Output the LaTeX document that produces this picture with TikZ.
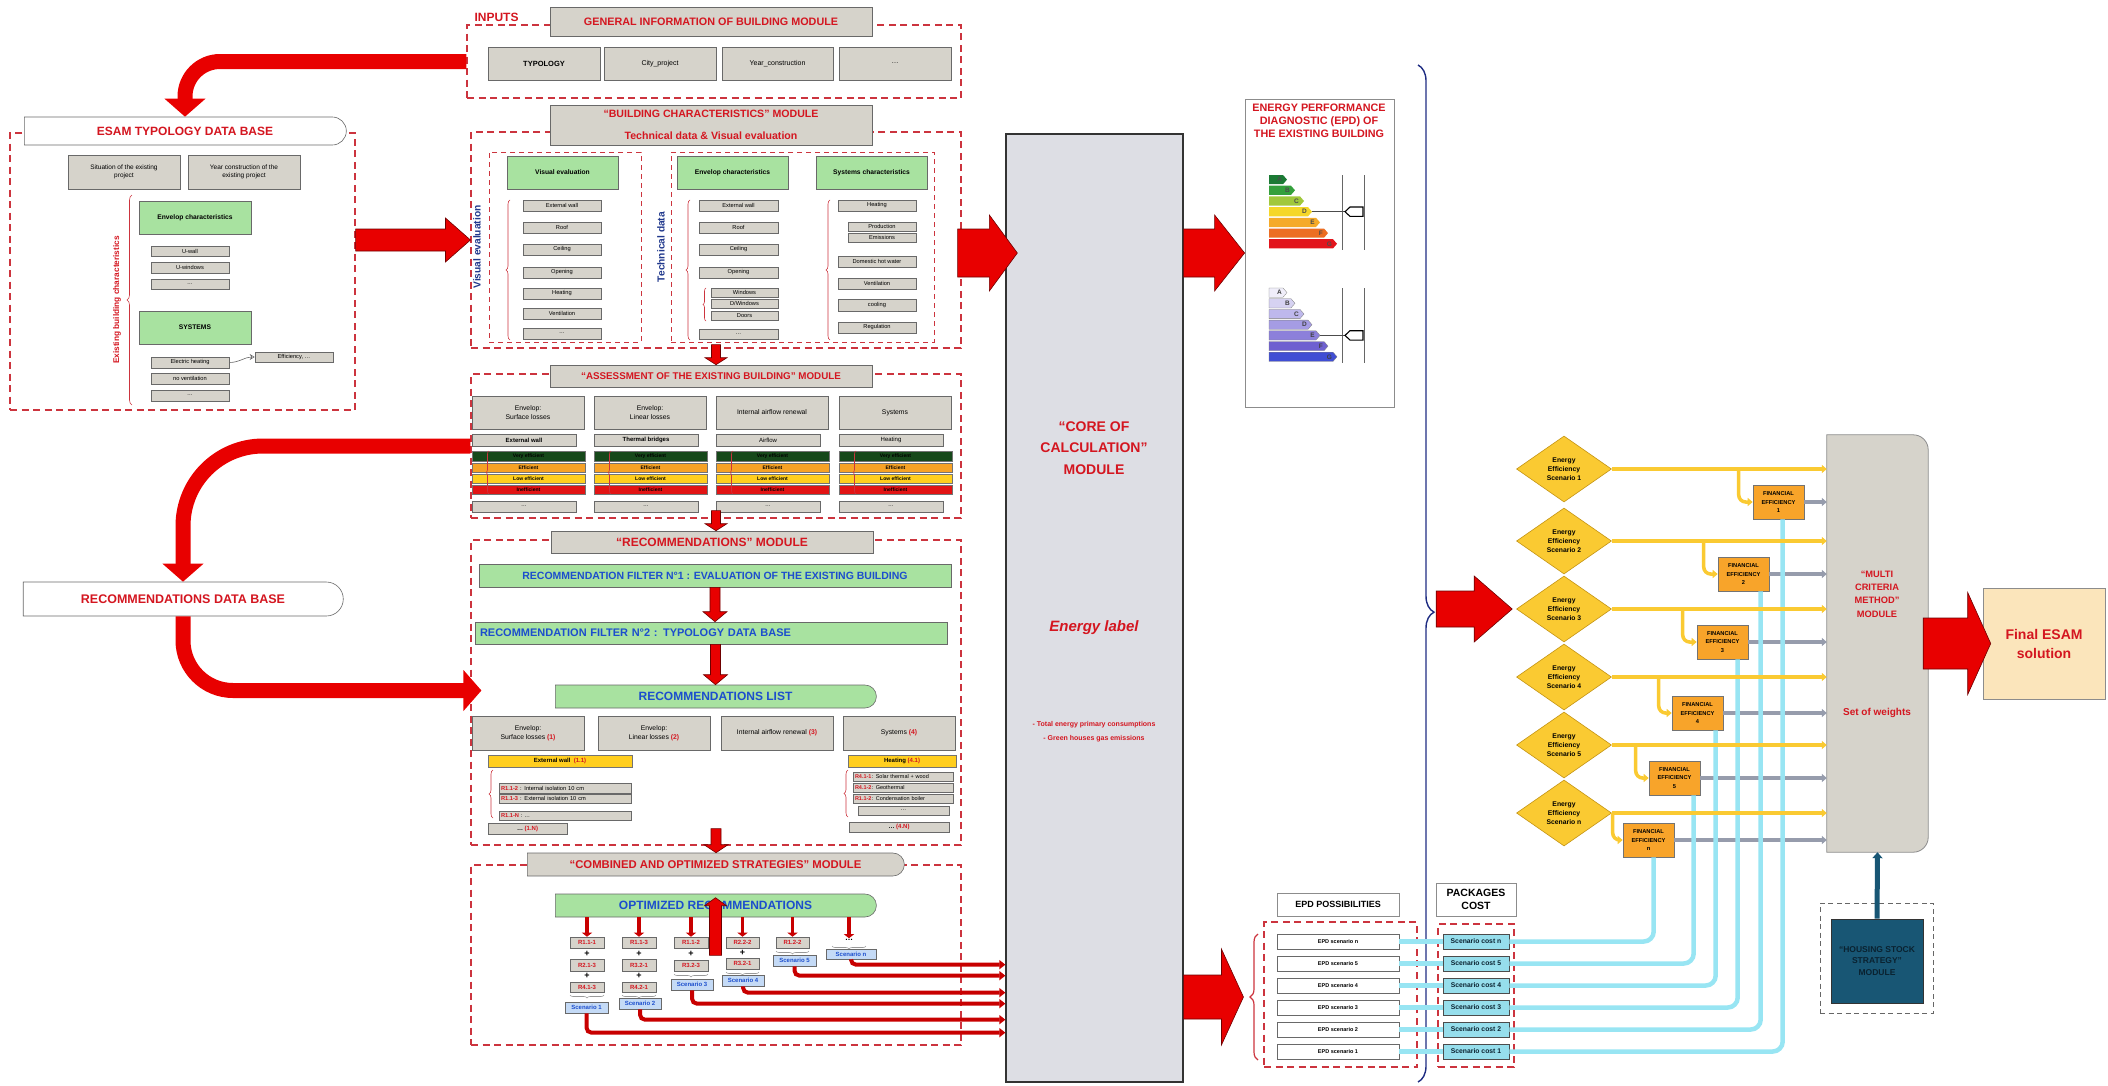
\documentclass[tikz,border=0pt]{standalone}
\usepackage{fontspec}
\setmainfont{Liberation Sans}
\usetikzlibrary{arrows.meta,calc,decorations.pathreplacing,shapes.geometric,shapes.misc}

\definecolor{boxgray}{RGB}{214,211,203}
\definecolor{boxedge}{RGB}{105,105,105}
\definecolor{boxgreen}{RGB}{168,226,160}
\definecolor{txtred}{RGB}{212,22,32}
\definecolor{txtblue}{RGB}{28,78,205}
\definecolor{rotblue}{RGB}{32,56,140}
\definecolor{framered}{RGB}{204,52,62}
\definecolor{arrred}{RGB}{232,0,0}
\definecolor{arredge}{RGB}{110,0,0}
\definecolor{linered}{RGB}{200,0,0}
\definecolor{verygreen}{RGB}{22,72,26}
\definecolor{effor}{RGB}{246,162,38}
\definecolor{lowyel}{RGB}{255,206,30}
\definecolor{inred}{RGB}{226,20,20}
\definecolor{scenfill}{RGB}{196,218,246}
\definecolor{corefill}{RGB}{221,222,228}
\definecolor{diafill}{RGB}{250,202,50}
\definecolor{diaedge}{RGB}{196,148,20}
\definecolor{fefill}{RGB}{248,164,42}
\definecolor{cyanln}{RGB}{152,229,243}
\definecolor{costfill}{RGB}{150,222,236}
\definecolor{hsfill}{RGB}{24,86,116}
\definecolor{hstext}{RGB}{10,34,48}
\definecolor{finalfill}{RGB}{251,229,187}
\definecolor{wgray}{RGB}{150,156,172}
\definecolor{bracenavy}{RGB}{30,44,130}
\definecolor{ea}{RGB}{27,122,52}
\definecolor{eb}{RGB}{52,160,60}
\definecolor{ec}{RGB}{160,200,60}
\definecolor{ed}{RGB}{245,215,40}
\definecolor{ee}{RGB}{245,170,40}
\definecolor{ef}{RGB}{236,110,35}
\definecolor{eg}{RGB}{226,20,28}
\definecolor{fa}{RGB}{240,238,250}
\definecolor{fb}{RGB}{214,210,242}
\definecolor{fc}{RGB}{190,184,236}
\definecolor{fd}{RGB}{165,156,228}
\definecolor{fe}{RGB}{140,128,218}
\definecolor{ff}{RGB}{110,96,208}
\definecolor{fg}{RGB}{64,78,212}

\newcommand{\fsz}[2]{\fontsize{#1}{#2}\selectfont}
% box given by its corners, in pixels of the original figure
\newcommand{\modbox}[7]{\node[#2, minimum width={(#5-#3)*1pt}, minimum height={(#6-#4)*1pt}] (#1) at ({(#3+#5)/2},{(#4+#6)/2}) {#7};}
% fat red arrows: from, to, body half, head half, head length
\newcommand{\vblock}[5]{\draw[blockarrow] let \p1=(#1), \p2=(#2) in (\x1-#3pt,\y1) -- (\x1-#3pt,\y2+#5pt) -- (\x1-#4pt,\y2+#5pt) -- (\x1,\y2) -- (\x1+#4pt,\y2+#5pt) -- (\x1+#3pt,\y2+#5pt) -- (\x1+#3pt,\y1) -- cycle;}
\newcommand{\rblock}[5]{\draw[blockarrow] let \p1=(#1), \p2=(#2) in (\x1,\y1+#3pt) -- (\x2-#5pt,\y1+#3pt) -- (\x2-#5pt,\y1+#4pt) -- (\x2,\y1) -- (\x2-#5pt,\y1-#4pt) -- (\x2-#5pt,\y1-#3pt) -- (\x1,\y1-#3pt) -- cycle;}

\tikzset{
  gbox/.style={draw=boxedge, fill=boxgray, line width=0.6pt, inner sep=1pt, align=center, font=\fsz{6.5}{8}},
  item/.style={gbox, font=\fsz{5.7}{6.5}},
  litem/.style={item, align=left, inner xsep=2pt, text width=#1},
  grbox/.style={draw=boxedge, fill=boxgreen, line width=0.6pt, inner sep=1pt, align=center, font=\bfseries\fsz{6.7}{8}},
  headbox/.style={gbox, text=txtred, font=\bfseries\fsz{10.8}{13}},
  filter/.style={grbox, text=txtblue, font=\bfseries\fsz{10.5}{13}},
  roundr/.style={rounded rectangle, rounded rectangle left arc=none, draw=boxedge, line width=0.6pt, inner sep=1pt},
  dbbox/.style={roundr, fill=white, text=txtred, font=\bfseries\fsz{12}{14}},
  modframe/.style={draw=framered, line width=1.1pt, dash pattern=on 7pt off 4.5pt, inner sep=0},
  subframe/.style={modframe, line width=0.9pt, dash pattern=on 5pt off 4pt},
  bar/.style={draw=black!55, line width=0.4pt, inner sep=0, font=\bfseries\fsz{5}{5.5}},
  yelbar/.style={draw=black!55, fill=lowyel, line width=0.4pt, inner sep=0, font=\bfseries\fsz{6}{6.5}},
  rbox/.style={item, text=txtred, font=\bfseries\fsz{6}{7}},
  scen/.style={draw=boxedge, fill=scenfill, line width=0.5pt, inner sep=0, text=txtblue, font=\bfseries\fsz{6}{7}},
  brc/.style={draw=framered, line width=0.6pt, decorate, decoration={brace, amplitude=#1}},
  brc/.default=4pt,
  blockarrow/.style={draw=arredge, fill=arrred, line width=0.6pt, line join=miter},
  curvearrow/.style={draw=arrred, line width=15pt, -{Triangle[length=18pt, width=40pt]}},
  scenline/.style={draw=linered, line width=4pt, rounded corners=5pt, -{Triangle[length=6pt, width=9pt]}},
  optarrow/.style={draw=linered, line width=3.5pt, -{Triangle[length=4pt, width=10pt]}},
  dia/.style={diamond, draw=diaedge, fill=diafill, line width=0.6pt, inner sep=0, minimum width=95pt, minimum height=66pt, align=center, font=\bfseries\fsz{6.8}{9}},
  febox/.style={draw=black!55, fill=fefill, line width=0.6pt, inner sep=0, align=center, font=\bfseries\fsz{5.7}{8.5}},
  yarrow/.style={draw=diafill, line width=3.5pt, -{Triangle[length=5pt, width=8pt]}},
  ybranch/.style={yarrow, rounded corners=7pt},
  garrow/.style={draw=wgray, line width=3.5pt, -{Triangle[length=5pt, width=8pt]}},
  cline/.style={draw=cyanln, line width=4.5pt, rounded corners=10pt},
  epdsbox/.style={draw=boxedge, fill=white, line width=0.6pt, inner sep=0, font=\bfseries\fsz{5.5}{6}},
  costbox/.style={draw=black!70, fill=costfill, line width=0.6pt, inner sep=0, text=hstext, font=\bfseries\fsz{6.8}{7.5}},
}

\begin{document}
\begin{tikzpicture}[x=1pt, y=-1pt]
\useasboundingbox (0,0) rectangle (2108,1085);

% inputs
\node[anchor=west, text=txtred, font=\bfseries\fsz{12}{14}] (inputs) at (471,17) {INPUTS};
\modbox{inframe}{modframe}{467}{25}{961}{98}{}
\modbox{genhead}{headbox}{550}{7}{872}{36}{GENERAL INFORMATION OF BUILDING MODULE}
\modbox{typ}{gbox, font=\bfseries\fsz{7.5}{9}}{488}{47}{600}{80}{TYPOLOGY}
\modbox{city}{gbox, font=\fsz{7}{8}}{604}{47}{716}{80}{City\_project}
\modbox{year}{gbox, font=\fsz{7}{8}}{722}{47}{833}{80}{Year\_construction}
\modbox{inmore}{gbox, font=\fsz{7}{8}}{839}{47}{951}{80}{\dots}

% typology data base
\modbox{esamframe}{modframe}{10}{133}{355}{410}{}
\modbox{esam}{dbbox}{23}{117}{347}{145}{ESAM TYPOLOGY DATA BASE}
\modbox{sit}{gbox}{68}{155}{180}{189}{Situation of the existing\\project}
\modbox{yrc}{gbox}{188}{155}{300}{189}{Year construction of the\\existing project}
\modbox{tenv}{grbox}{139}{201}{251}{234}{Envelop characteristics}
\modbox{uwall}{item}{151}{246}{229}{256}{U-wall}
\modbox{uwin}{item}{151}{262}{229}{273}{U-windows}
\modbox{udots}{item}{151}{279}{229}{289}{\dots}
\modbox{tsys}{grbox}{139}{311}{251}{344}{SYSTEMS}
\modbox{eheat}{item}{151}{357}{229}{368}{Electric heating}
\modbox{novent}{item}{151}{373}{229}{384}{no ventilation}
\modbox{sdots}{item}{151}{390}{229}{401}{\dots}
\modbox{effi}{item}{255}{352}{333}{362}{Efficiency, \dots}
\draw[draw=black!60, line width=0.6pt, -{Stealth[open, length=5pt, width=6pt]}] (eheat.east) to[out=0, in=180] (effi.west);
\draw[brc=5pt] (132,405) -- (132,195);
\node[rotate=90, text=txtred, font=\bfseries\fsz{8.3}{10}] (exlab) at (117,300) {Existing building characteristics};

% building characteristics
\modbox{bframe}{modframe}{471}{132}{961}{348}{}
\modbox{bvis}{subframe}{489}{152}{641}{342}{}
\modbox{btech}{subframe}{671}{152}{934}{342}{}
\modbox{bhead}{headbox, font=\bfseries\fsz{10.6}{22}}{550}{105}{872}{145}{“BUILDING CHARACTERISTICS” MODULE\\Technical data \& Visual evaluation}
\node[rotate=90, text=rotblue, font=\bfseries\fsz{10.2}{12}] (vislab) at (477,247) {Visual evaluation};
\node[rotate=90, text=rotblue, font=\bfseries\fsz{10.2}{12}] (techlab) at (661,247) {Technical data};
\modbox{vis}{grbox}{507}{156}{618}{189}{Visual evaluation}
\foreach \k/\ya/\yb/\t in {1/200/211/External wall, 2/222/233/Roof, 3/244/255/Ceiling, 4/267/278/Opening, 5/288/299/Heating, 6/308/319/Ventilation, 7/328/339/\dots}{
  \modbox{vis\k}{item}{523}{\ya}{601}{\yb}{\t}
}
\draw[brc] (510,340) -- (510,200);
\modbox{envt}{grbox}{677}{156}{788}{189}{Envelop characteristics}
\foreach \k/\ya/\yb/\t in {1/200/211/External wall, 2/222/233/Roof, 3/244/255/Ceiling, 4/267/278/Opening, 5/329/339/\dots}{
  \modbox{env\k}{item}{699}{\ya}{778}{\yb}{\t}
}
\foreach \k/\ya/\yb/\t in {1/288/297/Windows, 2/299/308/{D/Windows}, 3/311/320/Doors}{
  \modbox{open\k}{item}{711}{\ya}{778}{\yb}{\t}
}
\draw[brc=3pt] (706,321) -- (706,288);
\draw[brc] (690,340) -- (690,200);
\modbox{sytop}{grbox}{816}{156}{927}{189}{Systems characteristics}
\modbox{sy1}{item}{838}{200}{916}{211}{Heating}
\modbox{sy2}{item}{848}{222}{916}{231}{Production}
\modbox{sy3}{item}{848}{233}{916}{242}{Emissions}
\modbox{sy4}{item}{838}{256}{916}{267}{Domestic hot water}
\modbox{sy5}{item}{838}{278}{916}{289}{Ventilation}
\modbox{sy6}{item}{838}{299}{916}{311}{cooling}
\modbox{sy7}{item}{838}{322}{916}{333}{Regulation}
\draw[brc] (830,340) -- (830,200);

% assessment
\modbox{aframe}{modframe}{471}{374}{961}{518}{}
\modbox{ahead}{headbox, font=\bfseries\fsz{9.8}{12}}{550}{365}{872}{387}{“ASSESSMENT OF THE EXISTING BUILDING” MODULE}
\foreach \c/\x/\t/\s in {1/472/{Envelop:\\Surface losses}/{\textbf{External wall}}, 2/594/{Envelop:\\Linear losses}/{\textbf{Thermal bridges}}, 3/716/{Internal airflow renewal}/{Airflow}, 4/839/{Systems}/{Heating}}{
  \modbox{acol\c}{gbox, font=\fsz{6.8}{8.5}}{\x}{396}{\x+112}{429}{\t}
  \modbox{asub\c}{item, font=\fsz{6}{7}}{\x+12}{434}{\x+92}{446}{\s}
  \modbox{avery\c}{bar, fill=verygreen}{\x+23}{451}{\x+90}{461}{Very efficient}
  \modbox{aeff\c}{bar, fill=effor}{\x+23}{463}{\x+90}{472}{Efficient}
  \modbox{alow\c}{bar, fill=lowyel}{\x+23}{474}{\x+90}{483}{Low efficient}
  \modbox{ain\c}{bar, fill=inred}{\x+23}{485}{\x+90}{494}{Inefficient}
  \draw[brc=3pt] (\x+17,494) -- (\x+17,451);
  \modbox{adots\c}{item}{\x+12}{501}{\x+92}{512}{\dots}
}

% recommendations
\modbox{recdb}{dbbox, font=\bfseries\fsz{12.5}{14}}{22}{582}{344}{616}{RECOMMENDATIONS DATA BASE}
\modbox{rframe}{modframe}{471}{540}{961}{845}{}
\modbox{rhead}{headbox, font=\bfseries\fsz{12}{14}}{551}{531}{873}{553}{“RECOMMENDATIONS” MODULE}
\modbox{filt1}{filter}{479}{564}{951}{587}{RECOMMENDATION FILTER N°1 : EVALUATION OF THE EXISTING BUILDING}
\modbox{filt2}{filter, font=\bfseries\fsz{11}{13}, text width=462pt, align=left, inner xsep=5pt}{475}{622}{947}{644}{RECOMMENDATION FILTER N°2 : TYPOLOGY DATA BASE}
\modbox{rlist}{roundr, fill=boxgreen, text=txtblue, font=\bfseries\fsz{12}{14}}{554}{685}{877}{708}{RECOMMENDATIONS LIST}
\foreach \c/\x/\t in {1/472/{Envelop:\\Surface losses \textbf{\textcolor{txtred}{(1)}}}, 2/598/{Envelop:\\Linear losses \textbf{\textcolor{txtred}{(2)}}}, 3/721/{Internal airflow renewal \textbf{\textcolor{txtred}{(3)}}}, 4/843/{Systems \textbf{\textcolor{txtred}{(4)}}}}{
  \modbox{rcol\c}{gbox, font=\fsz{6.8}{8.5}}{\x}{716}{\x+112}{750}{\t}
}
\modbox{rew}{yelbar}{488}{755}{632}{767}{External wall \ \textcolor{txtred}{(1.1)}}
\modbox{rheat}{yelbar}{848}{755}{956}{767}{Heating \textcolor{txtred}{(4.1)}}
\modbox{r112}{litem=128pt}{499}{783}{631}{793}{\textcolor{txtred}{\textbf{R1.1-2}} : Internal isolation 10 cm}
\modbox{r113}{litem=128pt}{499}{794}{631}{803}{\textcolor{txtred}{\textbf{R1.1-3}} : External isolation 10 cm}
\modbox{r11n}{litem=128pt}{499}{811}{631}{820}{\textcolor{txtred}{\textbf{R1.1-N}} : \dots}
\draw[brc] (493,818) -- (493,770);
\modbox{r1n}{item, font=\bfseries\fsz{6}{7}}{488}{823}{567}{834}{\dots\ \textcolor{txtred}{(1.N)}}
\modbox{r411}{litem=96pt, font=\fsz{5.5}{6.5}}{853}{772}{953}{781}{\textcolor{txtred}{\textbf{R4.1-1}}: Solar thermal + wood}
\modbox{r412}{litem=96pt, font=\fsz{5.5}{6.5}}{853}{783}{953}{792}{\textcolor{txtred}{\textbf{R4.1-2}}: Geothermal}
\modbox{r413}{litem=96pt, font=\fsz{5.5}{6.5}}{853}{794}{953}{803}{\textcolor{txtred}{\textbf{R1.1-2}}: Condensation boiler}
\modbox{r41d}{item}{858}{806}{949}{815}{\dots}
\draw[brc] (848,817) -- (848,770);
\modbox{r4n}{item, font=\bfseries\fsz{6}{7}}{849}{822}{949}{832}{\dots\ \textcolor{txtred}{(4.N)}}

% combined and optimized strategies
\modbox{cframe}{modframe}{471}{865}{961}{1045}{}
\modbox{chead}{roundr, fill=boxgray, text=txtred, font=\bfseries\fsz{11.3}{13}}{526}{853}{905}{876}{“COMBINED AND OPTIMIZED STRATEGIES” MODULE}
\modbox{opt}{roundr, fill=boxgreen, text=txtblue, font=\bfseries\fsz{12}{14}}{554}{894}{877}{917}{OPTIMIZED RECOMMENDATIONS}
\foreach \c/\x/\ra/\rb/\rc in {1/570/R1.1-1/R2.1-3/R4.1-3, 2/622/R1.1-3/R3.2-1/R4.2-1}{
  \modbox{ra\c}{rbox}{\x}{937}{\x+34}{948}{\ra}
  \modbox{rb\c}{rbox}{\x}{959}{\x+34}{971}{\rb}
  \modbox{rc\c}{rbox}{\x}{982}{\x+34}{992}{\rc}
  \node[font=\bfseries\fsz{9}{9}] (pa\c) at (\x+17,954) {+};
  \node[font=\bfseries\fsz{9}{9}] (pb\c) at (\x+17,976) {+};
  \draw[brc=3pt, draw=black!40] (\x+34,995) -- (\x,995);
}
\modbox{ra3}{rbox}{674}{937}{708}{948}{R1.1-2}
\node[font=\bfseries\fsz{9}{9}] (pa3) at (691,954) {+};
\modbox{rb3}{rbox}{674}{960}{708}{971}{R3.2-3}
\draw[brc=3pt, draw=black!40] (708,974) -- (674,974);
\modbox{ra4}{rbox}{726}{937}{759}{948}{R2.2-2}
\node[font=\bfseries\fsz{9}{9}] (pa4) at (742.5,953) {+};
\modbox{rb4}{rbox}{726}{958}{759}{969}{R3.2-1}
\draw[brc=3pt, draw=black!40] (759,972) -- (726,972);
\modbox{ra5}{rbox}{776}{937}{809}{948}{R1.2-2}
\draw[brc=3pt, draw=black!40] (809,951) -- (776,951);
\node[font=\bfseries\fsz{8}{8}, inner sep=1pt] (rdots) at (849,940) {\dots};
\draw[brc=3pt, draw=black!40] (866,946) -- (832,946);
\modbox{s1}{scen}{565}{1002}{608}{1013}{Scenario 1}
\modbox{s2}{scen}{619}{998}{661}{1009}{Scenario 2}
\modbox{s3}{scen}{671}{979}{713}{990}{Scenario 3}
\modbox{s4}{scen}{722}{975}{764}{986}{Scenario 4}
\modbox{s5}{scen}{773}{955}{816}{966}{Scenario 5}
\modbox{sn}{scen}{826}{949}{876}{959}{Scenario n}
\foreach \k in {1,2,3,4,5}{
  \draw[optarrow] (opt.south -| ra\k.north) -- (ra\k.north);
}
\draw[optarrow] (opt.south -| rdots.north) -- (rdots.north);

% core of calculation
\modbox{core}{draw=black!80, fill=corefill, line width=1.3pt}{1006}{134}{1183}{1082}{}
\node[text=txtred, font=\bfseries\fsz{14}{21.5}, align=center] (coretitle) at (1094,448) {“CORE OF\\CALCULATION”\\MODULE};
\node[text=txtred, font=\bfseries\itshape\fsz{15}{18}] (elabel) at (1094,628) {Energy label};
\node[text=txtred, font=\bfseries\fsz{7}{14}, align=center] (enotes) at (1094,732) {- Total energy primary consumptions\\- Green houses gas emissions};
\foreach \k/\d in {1/50, 2/63, 3/79, 4/90, 5/107, n/118}{
  \draw[scenline] (s\k.south) |- ($(core.south west)+(0,-\d)$);
}

% energy performance diagnostic
\modbox{diag}{draw=black!45, fill=white, line width=0.8pt}{1245}{99}{1394}{407}{}
\node[text=txtred, font=\bfseries\fsz{10.8}{13}, align=center] (diagtitle) at (1319,121) {ENERGY PERFORMANCE\\DIAGNOSTIC (EPD) OF\\THE EXISTING BUILDING};
\foreach \k/\w/\c/\l in {0/18/ea/A, 1/26/eb/B, 2/35/ec/C, 3/43/ed/D, 4/51/ee/E, 5/59/ef/F, 6/68/eg/G}{
  \fill[\c] (1269,{175+\k*10.7}) -- ++(\w-4,0) -- ++(4,4.6) -- ++(-4,4.6) -- ++(-\w+4,0) -- cycle;
  \node[anchor=east, inner sep=0, text=black!70, font=\bfseries\fsz{6.5}{7}] (ela\k) at ({1264+\w},{179.6+\k*10.7}) {\l};
}
\foreach \k/\w/\c/\l in {0/18/fa/A, 1/26/fb/B, 2/35/fc/C, 3/43/fd/D, 4/51/fe/E, 5/59/ff/F, 6/68/fg/G}{
  \filldraw[fill=\c, draw=black!50, line width=0.3pt] (1269,{288+\k*10.7}) -- ++(\w-4,0) -- ++(4,4.6) -- ++(-4,4.6) -- ++(-\w+4,0) -- cycle;
  \node[anchor=east, inner sep=0, text=black!75, font=\bfseries\fsz{6.5}{7}] (elb\k) at ({1264+\w},{292.6+\k*10.7}) {\l};
}
\draw[black!60, line width=0.5pt] (1342,175) -- (1342,250) (1364,175) -- (1364,250) (1342,288) -- (1342,363) (1364,288) -- (1364,363);
\draw[black!70, line width=0.6pt] (1312,211.7) -- (1345,211.7) (1320,335.4) -- (1345,335.4);
\draw[line width=1.1pt, fill=white] (1345,211.7) -- (1350,207) -- (1363,207) -- (1363,216.4) -- (1350,216.4) -- cycle;
\draw[line width=1.1pt, fill=white] (1345,335.4) -- (1350,330.7) -- (1363,330.7) -- (1363,340.1) -- (1350,340.1) -- cycle;

% epd possibilities and packages cost
\draw[draw=bracenavy, line width=1.4pt, decorate, decoration={brace, amplitude=16pt, aspect=0.538}] (1418,65) -- (1418,1082);
\modbox{epdposs}{draw=black!45, fill=white, line width=0.6pt, font=\bfseries\fsz{9}{10}}{1277}{893}{1399}{916}{EPD POSSIBILITIES}
\modbox{pkg}{draw=black!45, fill=white, line width=0.6pt, align=center, font=\bfseries\fsz{10.5}{13}}{1436}{883}{1516}{916}{PACKAGES\\COST}
\modbox{epdframe}{modframe}{1264}{922}{1417}{1067}{}
\modbox{pkgframe}{modframe}{1438}{924}{1514}{1067}{}
\draw[brc=8pt, line width=1.2pt] (1258,1060) -- (1258,934);
\foreach \k/\y in {n/934, 5/956, 4/978, 3/1000, 2/1022, 1/1044}{
  \modbox{epds\k}{epdsbox}{1277}{\y}{1399}{\y+15}{EPD scenario \k}
  \modbox{cost\k}{costbox}{1443}{\y+1.5}{1509}{\y+13.5}{Scenario cost \k}
}

% multi criteria method
\modbox{mcm}{inner sep=0}{1827}{435}{1928}{852}{}
\draw[draw=black!45, fill=boxgray, line width=0.8pt] (mcm.south west) -- (mcm.north west) -- ($(mcm.north east)+(-15,0)$) arc[start angle=90, end angle=0, radius=15pt] -- ($(mcm.south east)+(0,-15)$) arc[start angle=0, end angle=-90, radius=15pt] -- cycle;
\node[text=txtred, font=\bfseries\fsz{9.3}{13.3}, align=center] (mcmtitle) at (1877,594) {“MULTI\\CRITERIA\\METHOD”\\MODULE};
\node[text=txtred, font=\bfseries\fsz{10}{12}] (weights) at (1877,713) {Set of weights};
\foreach \k/\y in {1/469, 2/541, 3/609, 4/677, 5/745, n/813}{
  \node[dia] (d\k) at (1564,\y) {Energy\\Efficiency\\Scenario \k};
}
\foreach \k/\xa/\ya in {1/1753/485, 2/1718/557, 3/1697/625, 4/1672/696, 5/1649/761, n/1623/823}{
  \modbox{fe\k}{febox}{\xa}{\ya}{\xa+51}{\ya+34}{FINANCIAL\\EFFICIENCY\\\k}
}
\foreach \k in {1,2,3,4,5,n}{
  \draw[garrow] (fe\k.east) -- (fe\k.east -| mcm.west);
}
\foreach \k/\dx in {n/31, 5/45, 4/44, 3/41, 2/43, 1/30}{
  \coordinate (c\k) at ($(fe\k.south west)+(\dx,0)$);
  \draw[cline] (epds\k.east) -- (cost\k.west);
  \draw[cline] (cost\k.east) -| (c\k);
}
\foreach \k/\o in {1/14, 2/14, 3/14, 4/13, 5/13, n/10}{
  \coordinate (b\k) at ($(fe\k.west)+(-\o,0)$);
  \draw[yarrow] (d\k.east) -- (d\k.east -| mcm.west);
  \draw[ybranch] (b\k |- d\k.east) -- (b\k) -- (fe\k.west);
}

% final solution and housing stock
\modbox{final}{draw=black!45, fill=finalfill, line width=0.6pt, align=center, text=txtred, font=\bfseries\fsz{14}{19}}{1983}{588}{2105}{699}{Final ESAM\\solution}
\modbox{hsframe}{draw=black!60, line width=1pt, dash pattern=on 5pt off 3.5pt, inner sep=0}{1820}{903}{1933}{1013}{}
\modbox{hs}{draw=black!80, fill=hsfill, line width=1pt, align=center, text=hstext, font=\bfseries\fsz{8.5}{11.5}}{1831}{919}{1923}{1003}{“HOUSING STOCK\\STRATEGY”\\MODULE}
\draw[draw=hsfill, line width=5pt, -{Triangle[length=6pt, width=10pt]}] (hs.north) -- (mcm.south);

% big red arrows
\draw[curvearrow, rounded corners=35pt] (inframe.west) -| (esam.north);
\draw[curvearrow, rounded corners=80pt] (aframe.west) -| (recdb.north);
\draw[curvearrow, rounded corners=50pt] (recdb.south) |- ($(rframe.west |- rlist.west)+(11,-6)$);
\rblock{esamframe.east |- bframe.west}{bframe.west}{11}{22}{25}
\rblock{$(bframe.east)+(-4,13)$}{$(core.west)+(12,0)$}{24}{38}{28}
\rblock{core.east |- diag.west}{diag.west}{24}{38}{30}
\rblock{$(core.east)+(0,389)$}{$(epdframe.west)+(-20,0)$}{22}{48}{22}
\rblock{$(d3.west)+(-80,0)$}{$(d3.west)+(-4,0)$}{18}{33}{38}
\rblock{$(mcm.east)+(-5,0)$}{$(final.west)+(8,0)$}{25.5}{51}{23}
\vblock{$(bframe.south)+(0,-4)$}{ahead.north}{4.5}{11}{7}
\vblock{$(aframe.south)+(0,-8)$}{rhead.north}{4.5}{11}{7}
\vblock{filt1.south}{filt2.north}{5}{12}{10}
\vblock{filt2.south -| rlist.north}{rlist.north}{5}{12}{10}
\vblock{$(rframe.south)+(0,-17)$}{chead.north}{5}{12}{8}
\vblock{$(opt.south)+(0,38)$}{$(opt.north)+(0,4)$}{6}{11}{-8}
\end{tikzpicture}
\end{document}
